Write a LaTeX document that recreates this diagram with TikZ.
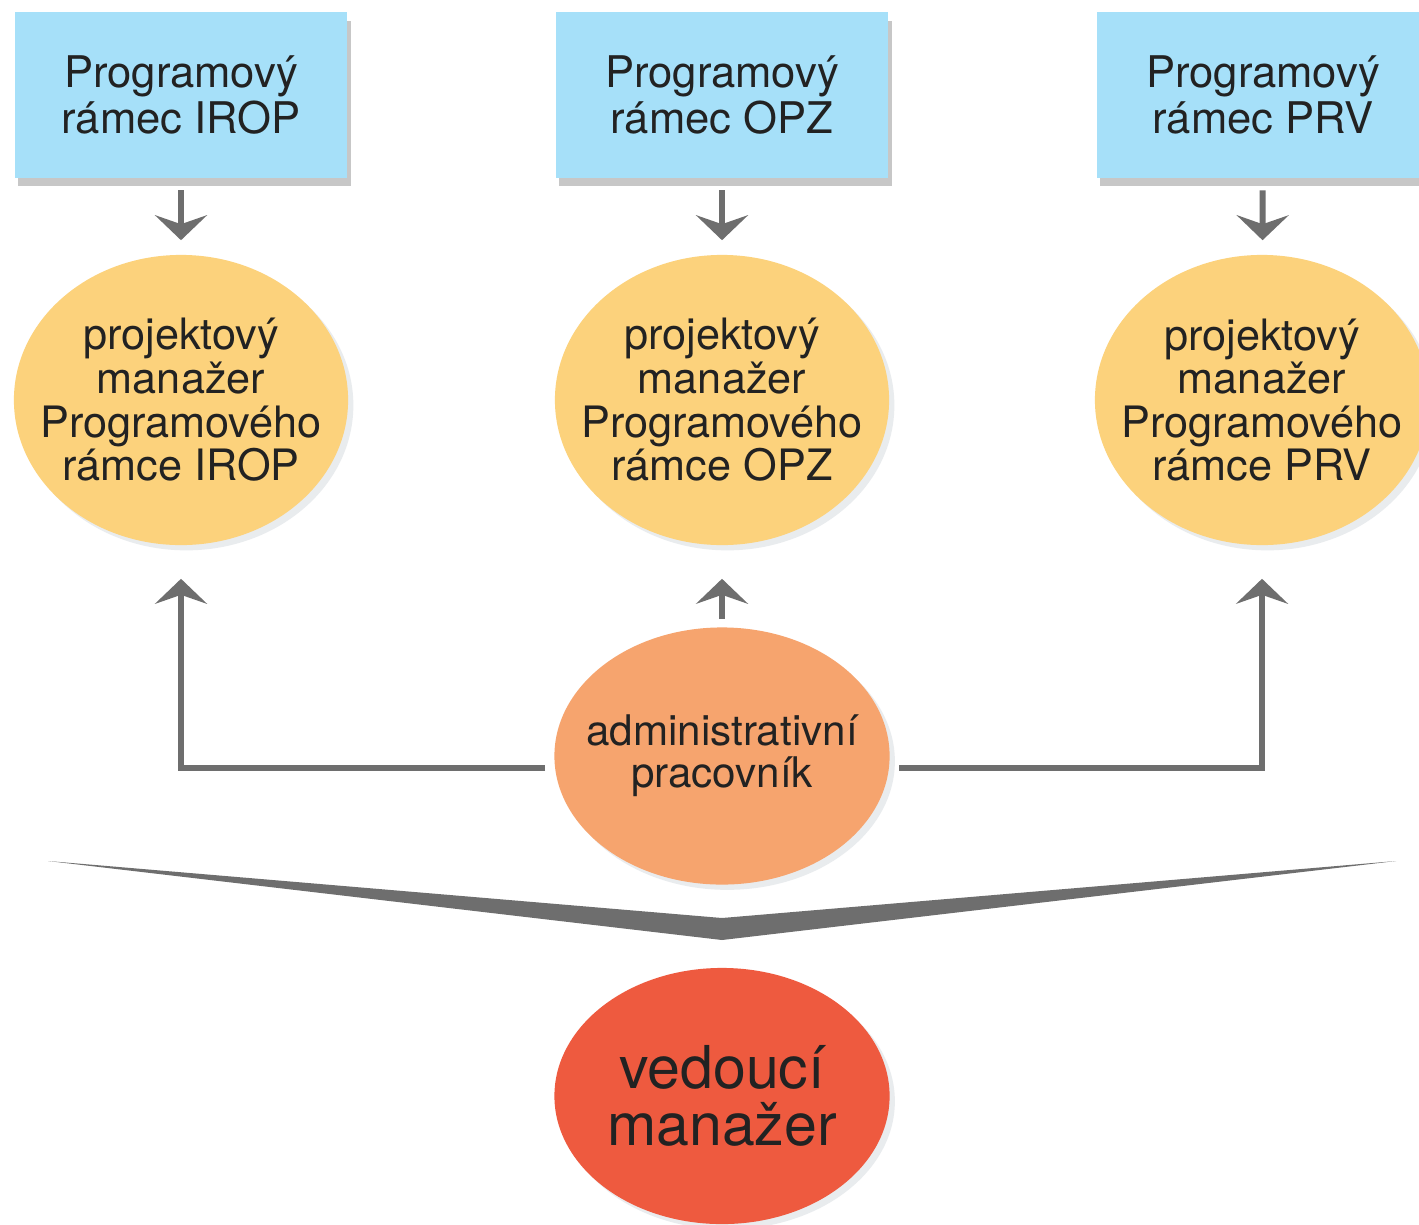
\documentclass[tikz,border=0pt]{standalone}
\usepackage{fontspec}
\setmainfont{TeX Gyre Heros}
\usetikzlibrary{arrows.meta,shapes.geometric,shadows}
\definecolor{boxblue}{HTML}{A6E0F9}
\definecolor{pmyellow}{HTML}{FCD27C}
\definecolor{admorange}{HTML}{F6A46E}
\definecolor{vedred}{HTML}{EE5A3F}
\definecolor{arrgray}{HTML}{6E6E6E}
\definecolor{txt}{HTML}{222222}
\definecolor{shcol}{HTML}{8A96A3}
\tikzset{
  framebox/.style={rectangle, fill=boxblue, minimum width=3.32cm, minimum height=1.65cm, inner sep=0pt,
    align=center, text=txt, font=\fontsize{12.4pt}{13pt}\selectfont,
    drop shadow={shadow xshift=1pt, shadow yshift=-2.5pt, opacity=0.22, fill=black}},
  ellbase/.style={ellipse, inner xsep=-0.35cm, inner ysep=0pt, align=center, text=txt,
    drop shadow={shadow xshift=1.5pt, shadow yshift=-1.5pt, opacity=0.18, fill=shcol}},
  pmell/.style={ellbase, fill=pmyellow, minimum width=3.34cm, minimum height=2.9cm,
    font=\fontsize{12.3pt}{12.4pt}\selectfont},
  admell/.style={ellbase, fill=admorange, minimum width=3.35cm, minimum height=2.57cm,
    font=\fontsize{12pt}{11.9pt}\selectfont},
  vedell/.style={ellbase, fill=vedred, minimum width=3.35cm, minimum height=2.56cm,
    font=\fontsize{16.8pt}{16.2pt}\selectfont},
  arr/.style={draw=arrgray, line width=1.7pt, -{Stealth[width=0.52cm, length=0.25cm, inset=0.09cm]}}
}
\begin{document}
\begin{tikzpicture}[x=0.01cm, y=-0.01cm]
\clip (0,0) rectangle (1419,1224);
\fill[white] (0,0) rectangle (1419,1224);

% frames
\node[framebox] (box1) at (181,95) {Programový\\rámec IROP};
\node[framebox] (box2) at (722,95) {Programový\\rámec OPZ};
\node[framebox] (box3) at (1263,95) {Programový\\rámec PRV};

% project managers
\node[pmell] (pm1) at (181,400) {projektový\\manažer\\Programového\\rámce IROP};
\node[pmell] (pm2) at (722,400) {projektový\\manažer\\Programového\\rámce OPZ};
\node[pmell] (pm3) at (1262,400) {projektový\\manažer\\Programového\\rámce PRV};

% administrative worker
\node[admell] (adm) at (722,756) {administrativní\\pracovník};

% head manager
\node[vedell] (ved) at (722,1096) {vedoucí\\manažer};

% arrows frame -> pm
\draw[arr, shorten <=0.12cm, shorten >=0.14cm] (box1) -- (pm1);
\draw[arr, shorten <=0.12cm, shorten >=0.14cm] (box2) -- (pm2);
\draw[arr, shorten <=0.12cm, shorten >=0.14cm] (box3) -- (pm3);

% arrows from administrative worker
\coordinate (aL) at (545,768);
\coordinate (aR) at (899,768);
\draw[arr, shorten >=0.33cm] (aL) -| (pm1);
\draw[arr, shorten >=0.33cm] (aR) -| (pm3);
\draw[arr, shorten <=0.08cm, shorten >=0.33cm] (adm) -- (pm2);

% chevron
\coordinate (chL) at (48,861);
\coordinate (chT) at (722,918);
\coordinate (chR) at (1396,861);
\coordinate (chB) at (722,940);
\fill[arrgray] (chL) -- (chT) -- (chR) -- (chB) -- cycle;
\end{tikzpicture}
\end{document}
